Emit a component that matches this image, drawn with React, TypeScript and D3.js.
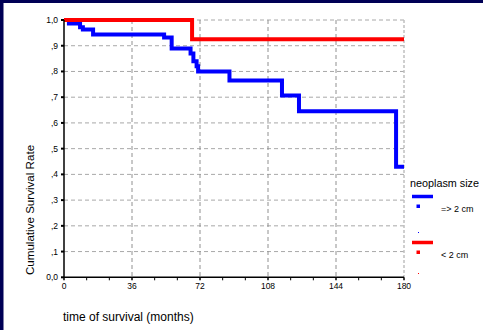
import React from 'react';
import * as d3 from 'd3';

// Kaplan-Meier steps
const bigTimes = [0, 2.6, 8.5, 10, 15.4, 53, 57, 67, 68.5, 70.2, 71, 87.6, 115.4, 124.4, 175.8, 180];
const bigSurv = [1, 0.986, 0.972, 0.963, 0.944, 0.932, 0.889, 0.87, 0.84, 0.82, 0.8, 0.765, 0.707, 0.645, 0.43, 0.43];
const smallTimes = [0, 67.8, 180];
const smallSurv = [1, 0.925, 0.925];

const xTicks = [0, 36, 72, 108, 144, 180];
const xMinor = [12, 24, 48, 60, 84, 96, 120, 132, 156, 168];
const yTicks = [0, 0.1, 0.2, 0.3, 0.4, 0.5, 0.6, 0.7, 0.8, 0.9, 1];
const yLabels = ["0,0", ",1", ",2", ",3", ",4", ",5", ",6", ",7", ",8", ",9", "1,0"];

const legendTitle = "neoplasm size";
const legendItems = [
    { label: "=> 2 cm", color: "#0000ff" },
    { label: "< 2 cm", color: "#ff0000" },
];

const FONT = "'Liberation Sans', Arial, sans-serif";

export default function App() {
    const width = 483;
    const height = 330;
    const left = 64, right = 404, top = 20, bottom = 277.3;

    const x = d3.scaleLinear().domain([0, 180]).range([left, right]);
    const y = d3.scaleLinear().domain([0, 1]).range([bottom, top]);

    const line = d3.line<[number, number]>()
        .x(d => x(d[0]))
        .y(d => y(d[1]))
        .curve(d3.curveStepAfter);

    const bigPath = line(bigTimes.map((t, i) => [t, bigSurv[i]]));
    const smallPath = line(smallTimes.map((t, i) => [t, smallSurv[i]]));

    return (
        <div style={{ position: "absolute", left: 0, top: 0 }}>
            <svg width={width} height={height} style={{ display: "block", background: "#fff" }}>
                <rect x={0} y={0} width={width} height={3} fill="#000055" />
                <rect x={0} y={0} width={3.5} height={height} fill="#000055" />

                {/* grid */}
                {yTicks.slice(1).map(v => (
                    <line key={"h" + v} x1={left} x2={right} y1={y(v)} y2={y(v)}
                        stroke="#a8a8a8" strokeWidth={1} strokeDasharray="4,3" />
                ))}
                {xTicks.slice(1, -1).map(t => (
                    <line key={"v" + t} x1={x(t)} x2={x(t)} y1={top} y2={bottom}
                        stroke="#909090" strokeWidth={1} strokeDasharray="4,3" />
                ))}
                <line x1={x(180)} x2={x(180)} y1={top} y2={bottom}
                    stroke="#c0c0c0" strokeWidth={1.5} strokeDasharray="3,2" />

                {/* curves */}
                <path d={bigPath ?? ""} fill="none" stroke="#0000ff" strokeWidth={4} strokeLinejoin="miter" />
                <path d={smallPath ?? ""} fill="none" stroke="#ff0000" strokeWidth={4} strokeLinejoin="miter" />

                {/* axes */}
                <line x1={left} x2={left} y1={top} y2={bottom} stroke="#000" strokeWidth={1.5} />
                <line x1={left} x2={right} y1={bottom} y2={bottom} stroke="#000" strokeWidth={1.5} />
                {yTicks.map((v, i) => (
                    <g key={"yt" + v}>
                        <line x1={left - 3} x2={left} y1={y(v)} y2={y(v)} stroke="#000" strokeWidth={2} />
                        <text x={left - 6} y={y(v) + 3} textAnchor="end" fontFamily={FONT} fontSize={8.5} fill="#000">
                            {yLabels[i]}
                        </text>
                    </g>
                ))}
                {xMinor.map(t => (
                    <line key={"xm" + t} x1={x(t)} x2={x(t)} y1={bottom} y2={bottom + 3} stroke="#000" strokeWidth={1} />
                ))}
                {xTicks.map(t => (
                    <g key={"xt" + t}>
                        <line x1={x(t)} x2={x(t)} y1={bottom} y2={bottom + 3} stroke="#000" strokeWidth={1.5} />
                        <text x={x(t)} y={bottom + 12} textAnchor="middle" fontFamily={FONT} fontSize={8.5} fill="#000">
                            {t}
                        </text>
                    </g>
                ))}

                {/* axis titles */}
                <text transform="translate(34,210) rotate(-90)" textAnchor="middle" fontFamily={FONT} fontSize={11.6} fill="#000">
                    Cumulative Survival Rate
                </text>
                <text x={63} y={321} fontFamily={FONT} fontSize={12} fill="#000">
                    time of survival (months)
                </text>

                {/* legend */}
                <text x={410} y={187} fontFamily={FONT} fontSize={10.8} fill="#000">{legendTitle}</text>
                {legendItems.map((item, i) => {
                    const base = 196.5 + i * 46;
                    return (
                        <g key={item.label}>
                            <line x1={412} x2={433} y1={base} y2={base} stroke={item.color} strokeWidth={3.5} />
                            <rect x={416.5} y={base + 8} width={3.5} height={3.5} fill={item.color} />
                            <text x={441} y={base + 15.5} fontFamily={FONT} fontSize={9} fill="#000">{item.label}</text>
                            <rect x={418} y={base + (i === 0 ? 35.5 : 30.5)} width={1} height={1} fill={item.color} />
                        </g>
                    );
                })}
            </svg>
        </div>
    );
}
